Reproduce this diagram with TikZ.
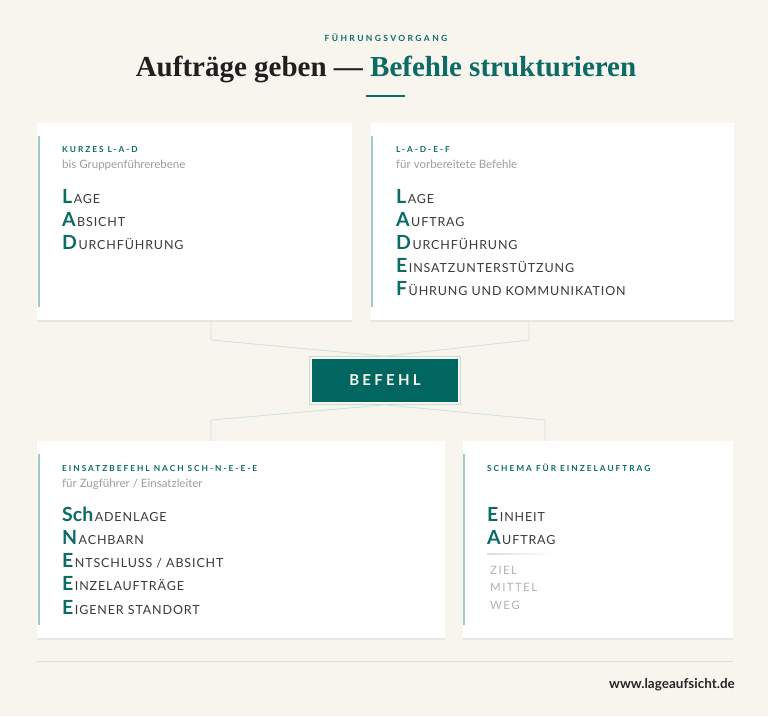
\documentclass[tikz,border=0pt]{standalone}
\usepackage{fontspec}
\setmainfont{Lato}
\newfontfamily\titlefont{Liberation Serif}
\usetikzlibrary{positioning, fit, shadows}
\definecolor{cream}{HTML}{F8F5EE}
\definecolor{leadteal}{HTML}{0B6C65}
\definecolor{boxteal}{HTML}{00665F}
\definecolor{accent}{HTML}{9ECBC7}
\definecolor{linkc}{HTML}{D2E2DE}
\definecolor{ringc}{HTML}{C6DCD6}
\definecolor{ink}{HTML}{3A3A3A}
\definecolor{subgray}{HTML}{9E9E9E}
\definecolor{palegray}{HTML}{B3B3B3}
\definecolor{footc}{HTML}{E3E0D9}
\newcommand\itm[2]{{\color{leadteal}\fontsize{19.5}{19.5}\selectfont\bfseries #1}\hspace{1.5pt}{\color{ink}\fontsize{12.5}{12.5}\selectfont\addfontfeature{LetterSpace=7}#2}}

\begin{document}
\begin{tikzpicture}[x=1pt, y=-1pt,
  card/.style={fill=white, anchor=north west, inner sep=0,
    drop shadow={shadow xshift=0pt, shadow yshift=-1.5pt, opacity=.06, fill=black}},
  bar/.style={draw=accent, line width=2pt},
  link/.style={draw=linkc, line width=.9pt},
  hd/.style={anchor=base west, inner sep=0, text=leadteal,
    font=\fontsize{8.3}{8.5}\selectfont\bfseries\addfontfeature{LetterSpace=24}},
  sub/.style={anchor=base west, inner sep=0, text=subgray, font=\fontsize{11.5}{12}\selectfont},
  it/.style={anchor=base west, inner sep=0},
  pale/.style={anchor=base west, inner sep=0, text=palegray,
    font=\fontsize{11.5}{12}\selectfont\addfontfeature{LetterSpace=12}}]
\path[use as bounding box, fill=cream] (0,0) rectangle (768,716);

% head
\node[anchor=base, inner sep=0, text=leadteal,
  font=\fontsize{8.5}{9}\selectfont\bfseries\addfontfeature{LetterSpace=28}] (kick) at (386,41.5) {FÜHRUNGSVORGANG};
\node[anchor=base, inner sep=0, text=black!88,
  font=\titlefont\fontsize{29}{30}\selectfont\bfseries] (title) at (386,76) {Aufträge geben — {\color{leadteal}Befehle strukturieren}};
\draw[leadteal, line width=2pt] (366,96) -- (405,96);

% connectors
\coordinate (k1) at (211,340); \coordinate (k2) at (529,340);
\coordinate (k3) at (211,420); \coordinate (k4) at (545,420);
\node[fill=boxteal, minimum width=146, minimum height=43, text=cream,
  font=\fontsize{15}{15}\selectfont\bfseries\addfontfeature{LetterSpace=22}] (bef) at (385,380.5) {BEFEHL};
\node[draw=ringc, line width=1.3pt, fit=(bef), inner sep=2pt] (ring) {};

% cards
\node[card, minimum width=315, minimum height=197] (lad) at (37,123) {};
\node[card, minimum width=363, minimum height=197] (ladef) at (371,123) {};
\node[card, minimum width=408, minimum height=197] (schnee) at (37,441) {};
\node[card, minimum width=270, minimum height=197] (einz) at (463,441) {};

\draw[link] (lad.south -| k1) -- (k1) -- (ring.north);
\draw[link] (ladef.south -| k2) -- (k2) -- (ring.north);
\draw[link] (ring.south) -- (k3) -- (schnee.north -| k3);
\draw[link] (ring.south) -- (k4) -- (einz.north -| k4);

\draw[bar] ([xshift=1.5pt,yshift=-13pt]lad.north west) -- ([xshift=1.5pt,yshift=13pt]lad.south west);
\draw[bar] ([xshift=1pt,yshift=-13pt]ladef.north west) -- ([xshift=1pt,yshift=13pt]ladef.south west);
\draw[bar] ([xshift=1.5pt,yshift=-13pt]schnee.north west) -- ([xshift=1.5pt,yshift=13pt]schnee.south west);
\draw[bar] ([xshift=1pt,yshift=-13pt]einz.north west) -- ([xshift=1pt,yshift=13pt]einz.south west);

% kurzes L-A-D
\node[hd] (ladhd) at (62,152) {KURZES L-A-D};
\node[sub] (ladsub) at (62,168) {bis Gruppenführerebene};
\foreach \a/\b [count=\i] in {L/AGE, A/BSICHT, D/URCHFÜHRUNG}
  \node[it] (lad\i) at (62,180+23*\i) {\itm{\a}{\b}};

% L-A-D-E-F
\node[hd] (ladefhd) at (396,152) {L-A-D-E-F};
\node[sub] (ladefsub) at (396,168) {für vorbereitete Befehle};
\foreach \a/\b [count=\i] in {L/AGE, A/UFTRAG, D/URCHFÜHRUNG, E/INSATZUNTERSTÜTZUNG, F/{ÜHRUNG UND KOMMUNIKATION}}
  \node[it] (ladef\i) at (396,180+23.1*\i) {\itm{\a}{\b}};

% SCH-N-E-E-E
\node[hd] (schneehd) at (62,471) {EINSATZBEFEHL NACH SCH-N-E-E-E};
\node[sub] (schneesub) at (62,487) {für Zugführer / Einsatzleiter};
\foreach \a/\b [count=\i] in {Sch/ADENLAGE, N/ACHBARN, E/{NTSCHLUSS / ABSICHT}, E/INZELAUFTRÄGE, E/{IGENER STANDORT}}
  \node[it] (schnee\i) at (62,497.7+23.3*\i) {\itm{\a}{\b}};

% Einzelauftrag
\node[hd] (einzhd) at (487,471) {SCHEMA FÜR EINZELAUFTRAG};
\node[it] (einz1) at (487,521) {\itm{E}{INHEIT}};
\node[it] (einz2) at (487,544.5) {\itm{A}{UFTRAG}};
\shade[left color=linkc, right color=white] (487,553.6) rectangle (552,554.6);
\node[pale] (ziel) at (490,574) {ZIEL};
\node[pale] (mittel) at (490,591.7) {MITTEL};
\node[pale] (weg) at (490,609.3) {WEG};

% foot
\draw[footc, line width=.9pt] (37,661) -- (733,661);
\node[anchor=base east, inner sep=0, text=black!85,
  font=\fontsize{13.5}{14}\selectfont\bfseries] (url) at (735,688) {www.lageaufsicht.de};
\end{tikzpicture}
\end{document}
